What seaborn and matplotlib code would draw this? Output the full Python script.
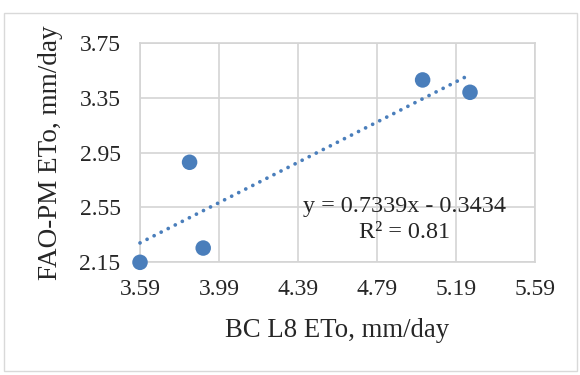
import matplotlib
matplotlib.use("Agg")
import matplotlib.pyplot as plt
import seaborn as sns
import numpy as np
import pandas as pd
from matplotlib.patches import Rectangle

# Data
bc_l8_eto = [3.59, 3.841, 3.91, 5.021, 5.261]
fao_pm_eto = [2.15, 2.879, 2.254, 3.479, 3.389]
slope = 0.7339
intercept = -0.3434
r_squared = 0.81
x_ticks = [3.59, 3.99, 4.39, 4.79, 5.19, 5.59]
y_ticks = [2.15, 2.55, 2.95, 3.35, 3.75]

df = pd.DataFrame({"x": bc_l8_eto, "y": fao_pm_eto})

sns.set_theme(style="white")
plt.rcParams["font.family"] = ["Liberation Serif", "DejaVu Serif"]

fig = plt.figure(figsize=(5.8, 3.75), dpi=100)
ax = fig.add_axes([0.2414, 0.3005, 0.6810, 0.5855])

blue = "#4a7ebb"
sns.scatterplot(data=df, x="x", y="y", ax=ax, s=125, color=blue,
                edgecolor="none", zorder=4, clip_on=False)

xs = np.array([min(bc_l8_eto), max(bc_l8_eto)])
ax.plot(xs, slope * xs + intercept, linestyle=(0, (0.01, 2.1)), color=blue,
        linewidth=2.7, dash_capstyle="round", zorder=3, clip_on=False)

ax.set_xlim(x_ticks[0], x_ticks[-1])
ax.set_ylim(y_ticks[0], y_ticks[-1])
ax.set_xticks(x_ticks)
ax.set_yticks(y_ticks)
ax.set_xticklabels([f"{v:.2f}" for v in x_ticks])
ax.set_yticklabels([f"{v:.2f}" for v in y_ticks])
ax.tick_params(axis="both", length=0, labelsize=17, colors="#262626")
ax.tick_params(axis="x", pad=12)
ax.tick_params(axis="y", pad=14)

ax.grid(True, color="#d4d4d4", linewidth=1.2)
ax.set_axisbelow(True)
for s in ax.spines.values():
    s.set_color("#d4d4d4")
    s.set_linewidth(1.2)
ax.set_facecolor("none")

ax.set_xlabel("BC L8 ETo, mm/day", fontsize=19.3, color="#262626", labelpad=13)
ax.set_ylabel("FAO-PM ETo, mm/day", fontsize=19.5, color="#262626", labelpad=12)

ax.text(4.928, 2.462, f"y = {slope}x - {abs(intercept)}\nR² = {r_squared}",
        ha="center", va="center", multialignment="center",
        fontsize=17.4, color="#262626", linespacing=1.3, zorder=5)

fig.patches.append(Rectangle((0.007, 0.011), 0.988, 0.954, transform=fig.transFigure,
                             fill=False, edgecolor="#d9d9d9", linewidth=1.0))

fig.savefig("out.png", dpi=100)
